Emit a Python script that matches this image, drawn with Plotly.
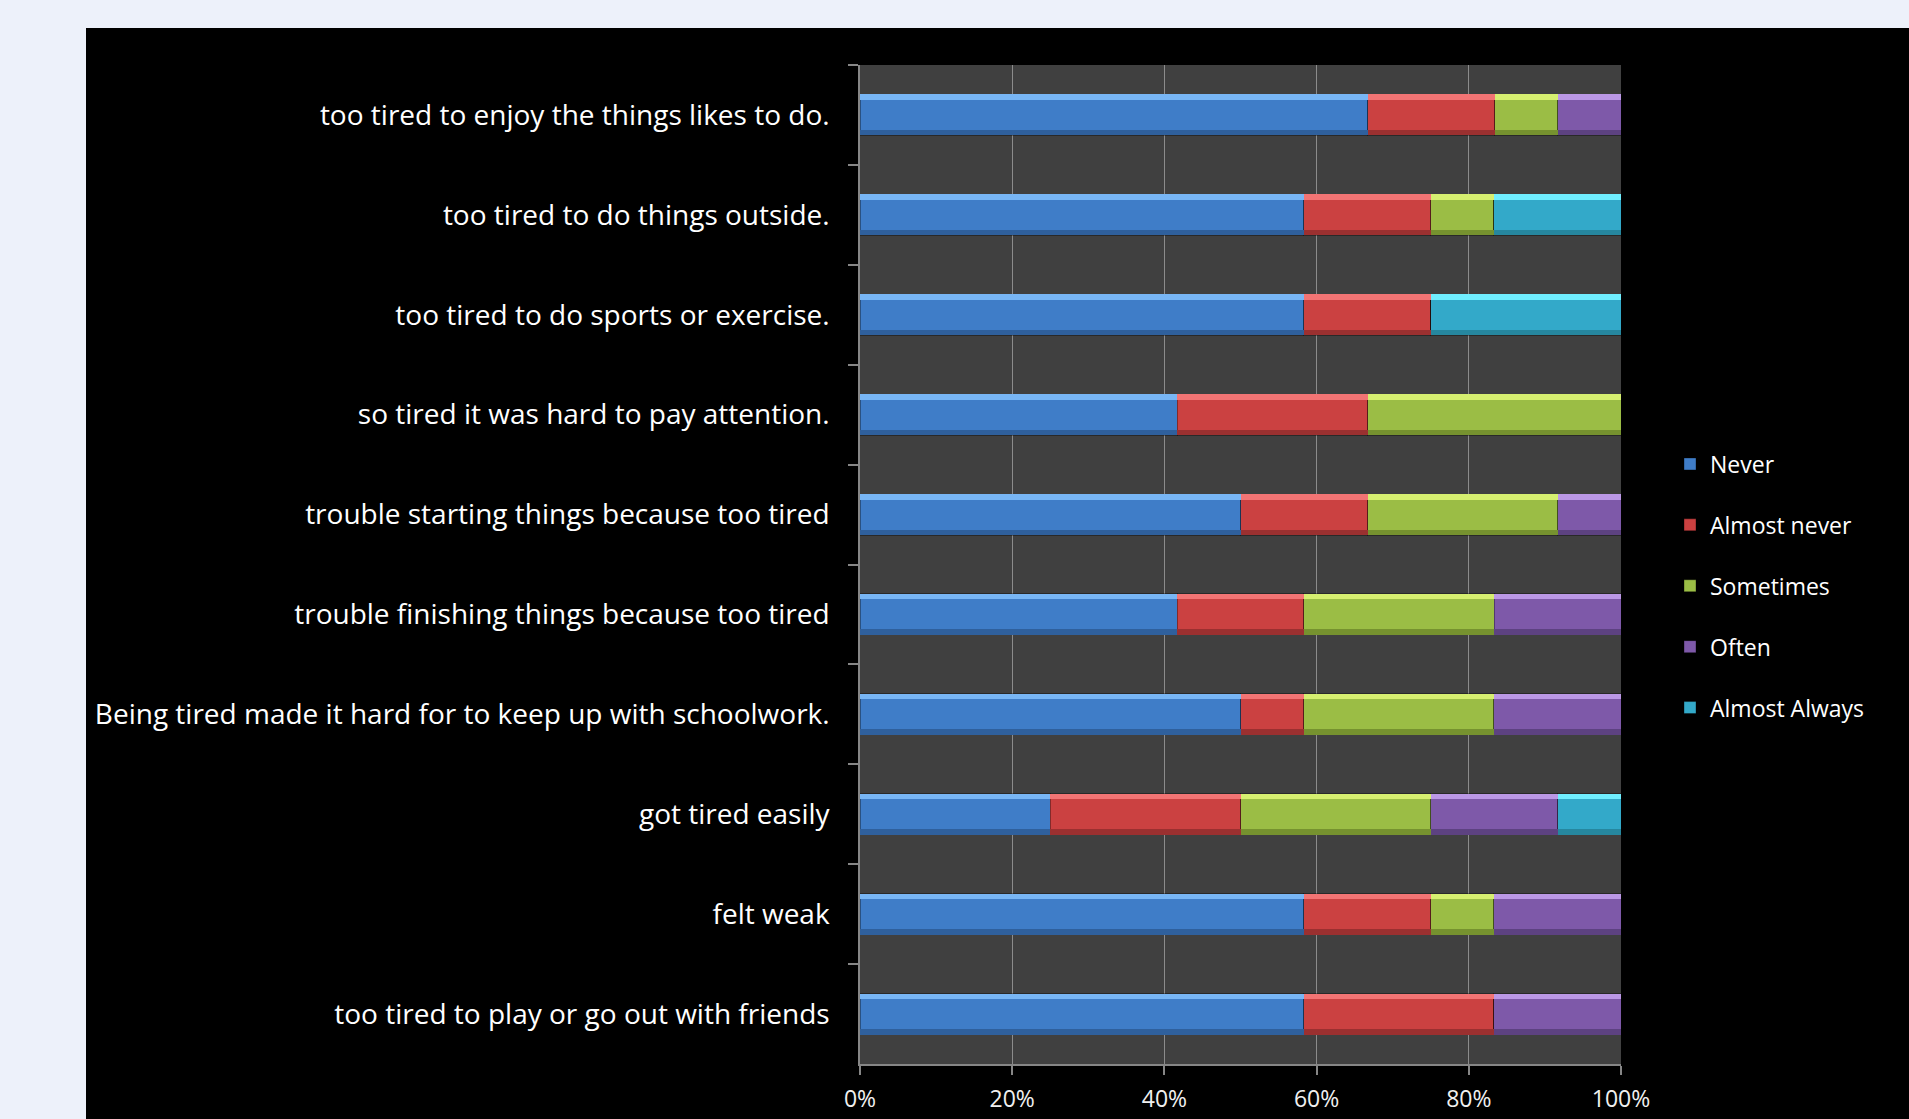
import plotly.graph_objects as go

# Survey items, listed top to bottom
items = [
    "too tired to enjoy the things likes to do.",
    "too tired to do things outside.",
    "too tired to do sports or exercise.",
    "so tired it was hard to pay attention.",
    "trouble starting things because too tired",
    "trouble finishing things because too tired",
    "Being tired made it hard for to keep up with schoolwork.",
    "got tired easily",
    "felt weak",
    "too tired to play or go out with friends",
]

# Share of responses (%) per answer category
never         = [66.7, 58.3, 58.3, 41.7, 50.0, 41.7, 50.0, 25.0, 58.3, 58.3]
almost_never  = [16.7, 16.7, 16.7, 25.0, 16.7, 16.7,  8.3, 25.0, 16.7, 25.0]
sometimes     = [ 8.3,  8.3,  0.0, 33.3, 25.0, 25.0, 25.0, 25.0,  8.3,  0.0]
often         = [ 8.3,  0.0,  0.0,  0.0,  8.3, 16.7, 16.7, 16.7, 16.7, 16.7]
almost_always = [ 0.0, 16.7, 25.0,  0.0,  0.0,  0.0,  0.0,  8.3,  0.0,  0.0]

series_names = ["Never", "Almost never", "Sometimes", "Often", "Almost Always"]
series_values = [never, almost_never, sometimes, often, almost_always]

x_ticks = [0, 20, 40, 60, 80, 100]

# Bevelled look: base, top highlight and bottom shade per series
base_colors  = ["#3f7dc8", "#cb4141", "#9bbd45", "#7e59a9", "#33a9c9"]
light_colors = ["#78b6f5", "#f27474", "#d6ef70", "#bb98e6", "#70eeff"]
dark_colors  = ["#2f609d", "#9b3030", "#76922f", "#5d4281", "#26879f"]

W, H = 1909, 1119
ML, MR, MT, MB = 860, 288, 65, 55
PW, PH = W - ML - MR, H - MT - MB

BAR_W = 0.41
STRIP = 0.055
n = len(items)
cat_range = [n - 0.5, -0.5]

fig = go.Figure()

for i, (name, vals) in enumerate(zip(series_names, series_values)):
    fig.add_trace(go.Bar(
        y=items, x=vals, name=name, orientation="h",
        width=BAR_W,
        marker=dict(color=base_colors[i], line=dict(color="rgba(0,0,0,0.35)", width=1)),
        legendgroup=name, showlegend=True,
        xaxis="x", yaxis="y",
    ))
    fig.add_trace(go.Bar(
        y=items, x=vals, name=name, orientation="h",
        width=STRIP, offset=-BAR_W / 2,
        marker=dict(color=light_colors[i], line=dict(width=0)),
        legendgroup=name, showlegend=False, hoverinfo="skip",
        xaxis="x", yaxis="y2",
    ))
    fig.add_trace(go.Bar(
        y=items, x=vals, name=name, orientation="h",
        width=STRIP, offset=BAR_W / 2 - STRIP,
        marker=dict(color=dark_colors[i], line=dict(width=0)),
        legendgroup=name, showlegend=False, hoverinfo="skip",
        xaxis="x", yaxis="y3",
    ))

font_family = "'Open Sans', 'Noto Sans', sans-serif"

cat_axis = dict(
    type="category", categoryorder="array", categoryarray=items,
    range=cat_range, autorange=False,
)

fig.update_layout(
    width=W, height=H,
    margin=dict(l=ML, r=MR, t=MT, b=MB, autoexpand=False),
    paper_bgcolor="#000000",
    plot_bgcolor="#404040",
    barmode="stack",
    barnorm="percent",
    font=dict(family=font_family, color="#ffffff"),
    xaxis=dict(
        range=[0, 100], tickvals=x_ticks, ticktext=[f"{v}%" for v in x_ticks],
        showgrid=True, gridcolor="#8c8c8c", gridwidth=1,
        showline=True, linecolor="#868686", linewidth=1.5,
        ticks="outside", ticklen=9, tickcolor="#868686", tickwidth=1.5,
        tickfont=dict(size=23, color="#f0f0f0", family=font_family),
        ticklabelstandoff=5,
        zeroline=False, mirror=False, fixedrange=True,
    ),
    yaxis=dict(
        **cat_axis,
        showgrid=False, showline=True, linecolor="#868686", linewidth=1.5,
        ticks="outside", tickson="boundaries", ticklen=10,
        tickcolor="#868686", tickwidth=1.5,
        tickfont=dict(size=28, color="#ffffff", family=font_family),
        ticklabelstandoff=23,
        fixedrange=True,
    ),
    yaxis2=dict(**cat_axis, overlaying="y", visible=False, fixedrange=True),
    yaxis3=dict(**cat_axis, overlaying="y", visible=False, fixedrange=True),
    legend=dict(
        x=(1670 - ML) / PW, xanchor="left",
        y=(MT + PH - 586) / PH, yanchor="middle",
        font=dict(size=23, color="#ffffff", family=font_family),
        bgcolor="rgba(0,0,0,0)",
        traceorder="grouped", tracegroupgap=28,
        itemclick=False, itemdoubleclick=False,
    ),
    showlegend=True,
)

# Light page surround outside the black chart panel
def px_x(px):
    return (px - ML) / PW

def px_y(py):
    return (MT + PH - py) / PH

page_bg = "#edf1fa"
fig.add_shape(type="rect", xref="paper", yref="paper",
              x0=px_x(0), x1=px_x(W), y0=px_y(0), y1=px_y(28),
              fillcolor=page_bg, line=dict(width=0), layer="above")
fig.add_shape(type="rect", xref="paper", yref="paper",
              x0=px_x(0), x1=px_x(86), y0=px_y(0), y1=px_y(H),
              fillcolor=page_bg, line=dict(width=0), layer="above")

fig.write_html("out.html", config={"displayModeBar": False})
